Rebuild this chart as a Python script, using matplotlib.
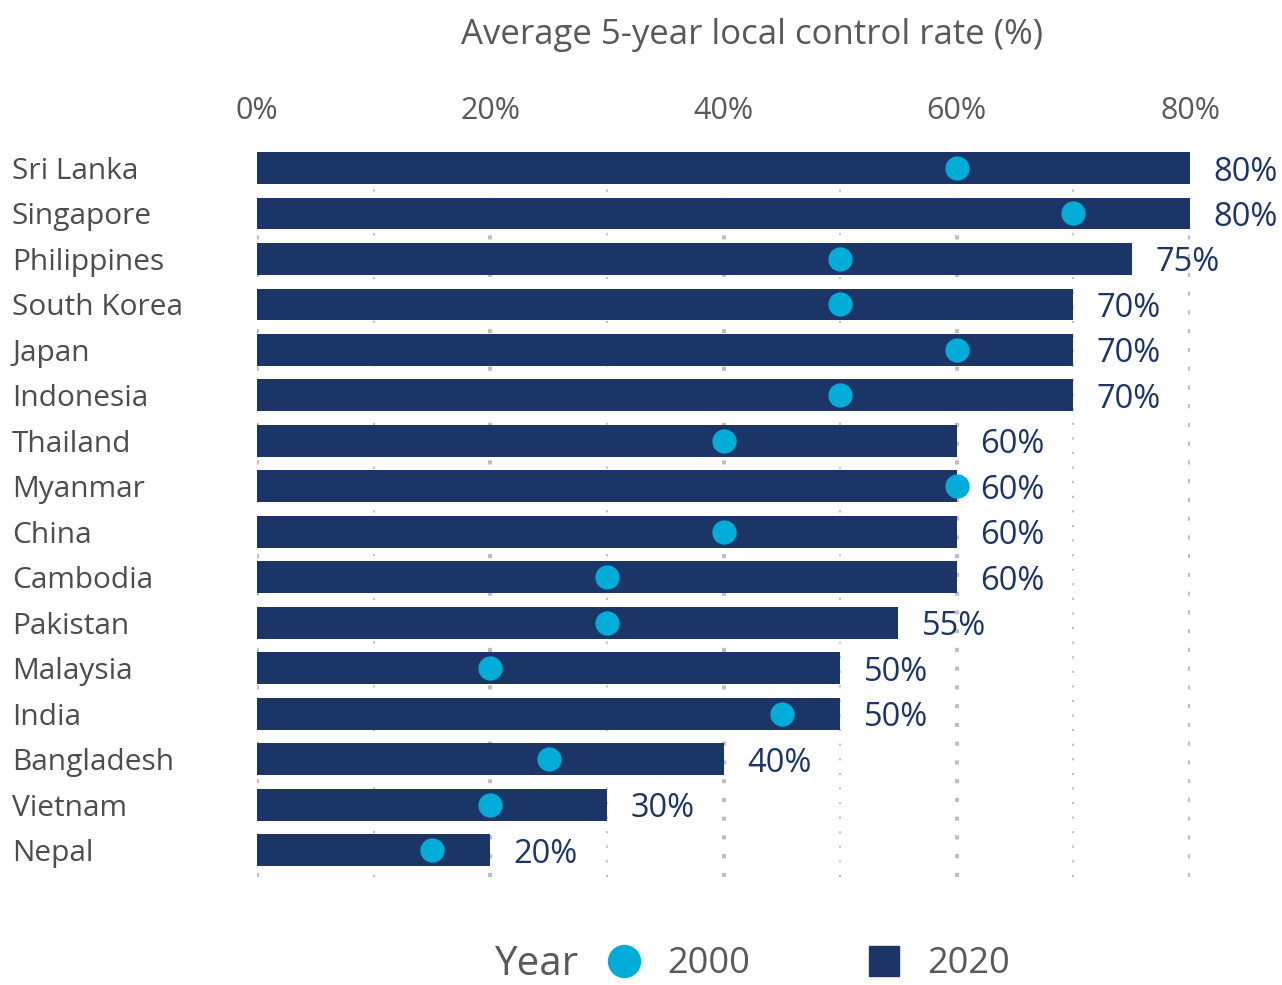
import matplotlib.pyplot as plt
from matplotlib.lines import Line2D
from matplotlib.ticker import MultipleLocator, FuncFormatter

countries = ["Sri Lanka", "Singapore", "Philippines", "South Korea", "Japan", "Indonesia",
             "Thailand", "Myanmar", "China", "Cambodia", "Pakistan", "Malaysia", "India",
             "Bangladesh", "Vietnam", "Nepal"]
rate_2020 = [80, 80, 75, 70, 70, 70, 60, 60, 60, 60, 55, 50, 50, 40, 30, 20]
rate_2000 = [60, 70, 50, 50, 60, 50, 40, 60, 40, 30, 30, 20, 45, 25, 20, 15]

navy = '#1a3566'
cyan = '#00acd8'
grid_color = '#bfbfbf'

plt.rcParams['font.family'] = ['Open Sans', 'DejaVu Sans']

fig = plt.figure(figsize=(12.82, 9.85), dpi=100)
ax = fig.add_axes([257 / 1282, 0.1093, (1190 - 257) / 1282, 0.8479 - 0.1093])

y = list(range(len(countries)))
ax.barh(y, rate_2020, height=0.7, color=navy, zorder=2)
ax.plot(rate_2000, y, linestyle='none', marker='o', markersize=16.5, color=cyan, zorder=3)

# value labels to the right of each bar
for yi, v in zip(y, rate_2020):
    ax.text(v + 2, yi, f"{v}%", va='center_baseline', ha='left', fontsize=23.5, color=navy, clip_on=False)

ax.set_xlim(0, 80)
ax.set_ylim(len(countries) - 0.4, -0.4)

# x axis on top
ax.xaxis.tick_top()
ax.xaxis.set_major_locator(MultipleLocator(20))
ax.xaxis.set_minor_locator(MultipleLocator(10))
ax.xaxis.set_major_formatter(FuncFormatter(lambda v, p: f"{v:.0f}%"))
ax.tick_params(axis='x', which='both', length=0, labelsize=22, labelcolor='#595959', pad=17)
ax.grid(True, axis='x', which='major', color=grid_color, linestyle=(0, (1, 3.5)), linewidth=3, zorder=0)
ax.grid(True, axis='x', which='minor', color=grid_color, linestyle=(0, (1, 6)), linewidth=1.5, zorder=0)
ax.set_axisbelow(True)

ax.set_yticks(y)
ax.set_yticklabels(countries, ha='left')
ax.tick_params(axis='y', length=0, labelsize=21.5, labelcolor='#4d4d4d', pad=(257 - 12) / 100 * 72)

for s in ax.spines.values():
    s.set_visible(False)

fig.text(752 / 1282, 1 - 35 / 985, "Average 5-year local control rate (%)",
         ha='center', va='center', fontsize=25, color='#595959')

# legend
fig.text(495 / 1282, 0.021, "Year", ha='left', va='center', fontsize=29, color='#595959')
handles = [Line2D([], [], linestyle='none', marker='o', markersize=23, color=cyan),
           Line2D([], [], linestyle='none', marker='s', markersize=22, color=navy)]
fig.legend(handles, ["2000", "2020"], loc='center left', bbox_to_anchor=(606 / 1282, 0.021),
           ncol=2, frameon=False, fontsize=26, handlelength=1, handletextpad=0.7,
           columnspacing=3.2, borderpad=0, borderaxespad=0, labelcolor='#595959')

fig.savefig("out.png", dpi=100)
